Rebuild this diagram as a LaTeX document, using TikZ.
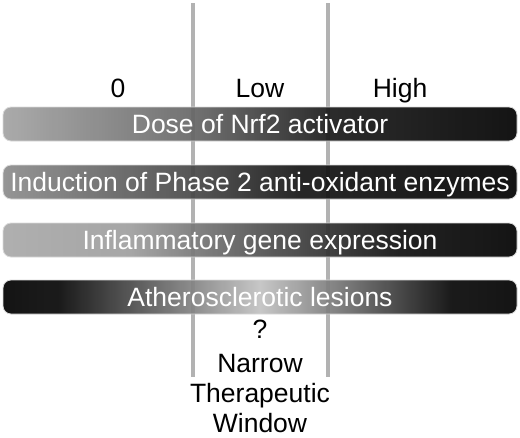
\documentclass[tikz,border=0pt]{standalone}
\usepackage{fontspec}
\setmainfont{Liberation Sans}
\pgfdeclarehorizontalshading{dose}{100bp}{color(0bp)=(black!36); color(25bp)=(black!36); color(43.5bp)=(black!60); color(56.8bp)=(black!90); color(75bp)=(black!100); color(100bp)=(black!100)}
\pgfdeclarehorizontalshading{phase}{100bp}{color(0bp)=(black!45); color(25bp)=(black!45); color(43.5bp)=(black!72); color(53.9bp)=(black!92); color(75bp)=(black!100); color(100bp)=(black!100)}
\pgfdeclarehorizontalshading{inflam}{100bp}{color(0bp)=(black!34); color(25bp)=(black!34); color(37.4bp)=(black!38); color(50bp)=(black!68); color(63.6bp)=(black!94); color(75bp)=(black!100); color(100bp)=(black!100)}
\pgfdeclarehorizontalshading{lesion}{100bp}{color(0bp)=(black!100); color(25bp)=(black!100); color(30.5bp)=(black!97); color(50bp)=(black!24); color(68.5bp)=(black!97); color(75bp)=(black!100); color(100bp)=(black!100)}
\tikzset{
  bar/.style={shade, minimum width=514pt, minimum height=34pt, rounded corners=8pt,
    draw=black!15, line width=0.8pt, fill opacity=0.92, text opacity=1, text=white,
    font=\fontsize{26.5}{31}\selectfont, text height=19pt, text depth=0pt, inner sep=0pt},
  lbl/.style={font=\fontsize{26.5}{31}\selectfont, anchor=base, inner sep=0pt},
  sep/.style={black!30, line width=4pt}
}
\begin{document}
\begin{tikzpicture}[x=1pt,y=-1pt]
\useasboundingbox (0,0) rectangle (520,437);
\coordinate (lowtop) at (193,3);
\coordinate (lowbot) at (193,377);
\coordinate (hightop) at (328,3);
\coordinate (highbot) at (328,377);
\draw[sep] (lowtop) -- (lowbot);
\draw[sep] (hightop) -- (highbot);
\node[lbl] (zero) at (118,97) {0};
\node[lbl] (low) at (260,97) {Low};
\node[lbl] (high) at (400,97) {High};
\node[bar, shading=dose] (dose) at (260,124) {Dose of Nrf2 activator};
\node[bar, shading=phase] (phase) at (260,182) {Induction of Phase 2 anti-oxidant enzymes};
\node[bar, shading=inflam] (inflam) at (260,240) {Inflammatory gene expression};
\node[bar, shading=lesion] (lesion) at (260,297) {Atherosclerotic lesions};
\node[lbl] (quest) at (260,338) {?};
\node[lbl] (narrow) at (260,372) {Narrow};
\node[lbl] (thera) at (260,402) {Therapeutic};
\node[lbl] (window) at (260,432) {Window};
\end{tikzpicture}
\end{document}
